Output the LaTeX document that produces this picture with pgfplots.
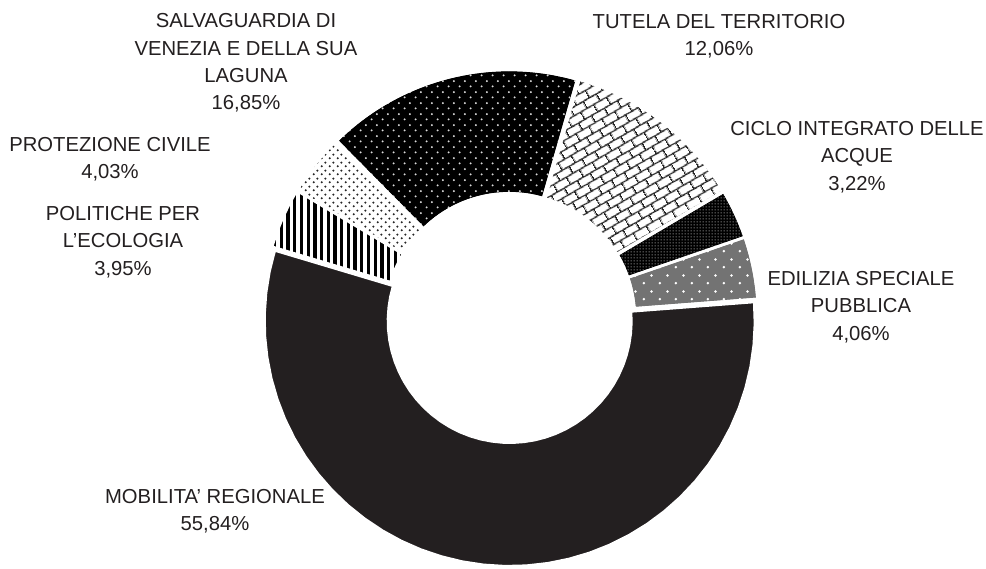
\documentclass[border=0pt]{standalone}
\usepackage{pgfplots}
\pgfplotsset{compat=1.18}
\usepackage{fontspec}
\setmainfont{Liberation Sans}
\usetikzlibrary{patterns,patterns.meta}
\definecolor{dk}{HTML}{231F20}

\tikzdeclarepattern{
  name=RBricks, type=uncolored,
  bounding box={(0,0) and (3.75mm,4mm)},
  tile size={(3.75mm,4mm)},
  tile transformation={rotate=30},
  code={
    \draw[line width=0.38mm] (0,1mm) -- (3.75mm,1mm);
    \draw[line width=0.38mm] (0,3mm) -- (3.75mm,3mm);
    \draw[line width=0.38mm] (0.9375mm,1mm) -- (0.9375mm,3mm);
    \draw[line width=0.38mm] (2.8125mm,3mm) -- (2.8125mm,4mm);
    \draw[line width=0.38mm] (2.8125mm,0mm) -- (2.8125mm,1mm);
  }
}
\tikzdeclarepattern{
  name=DotsBig, type=uncolored,
  bounding box={(0,0) and (2.8mm,2.8mm)}, tile size={(2.8mm,2.8mm)},
  code={\fill (0.7mm,0.7mm) circle (0.28mm); \fill (2.1mm,2.1mm) circle (0.28mm);}
}
\tikzdeclarepattern{
  name=DotsSmall, type=uncolored,
  bounding box={(0,0) and (2mm,2mm)}, tile size={(2mm,2mm)},
  code={\fill (0.5mm,0.5mm) circle (0.32mm); \fill (1.5mm,1.5mm) circle (0.32mm);}
}
\tikzdeclarepattern{
  name=DotsFine, type=uncolored,
  bounding box={(0,0) and (0.75mm,0.75mm)}, tile size={(0.75mm,0.75mm)},
  code={\fill (0.375mm,0.375mm) circle (0.2mm);}
}
\tikzdeclarepattern{
  name=DotsWide, type=uncolored,
  bounding box={(0,0) and (3.9mm,3.9mm)}, tile size={(3.9mm,3.9mm)},
  code={\fill (0.975mm,0.975mm) circle (0.35mm); \fill (2.925mm,2.925mm) circle (0.35mm);}
}

% geometry (axis units = pixels of the reference)
\def\cx{510}\def\cy{250}\def\Ro{245}\def\Ri{122}\def\expl{3}\def\firstangle{16}

% #1 cumulative start (%), #2 share (%), #3 style
\newcommand\slice[3]{%
  \pgfmathsetmacro\sa{90-\firstangle-3.6*#1}%
  \pgfmathsetmacro\sb{90-\firstangle-3.6*(#1+#2)}%
  \pgfmathsetmacro\sm{(\sa+\sb)/2}%
  \pgfmathsetmacro\ex{\cx+\expl*cos(\sm)}%
  \pgfmathsetmacro\ey{\cy+\expl*sin(\sm)}%
  \edef\temp{\noexpand\addplot[\unexpanded{#3}, samples at={0,...,80}, variable=\noexpand\k]
   ({\ex+((\noexpand\k<=40) ? \Ro*cos(\sa+(\sb-\sa)*\noexpand\k/40) : \Ri*cos(\sb+(\sa-\sb)*(\noexpand\k-41)/39))},
    {\ey+((\noexpand\k<=40) ? \Ro*sin(\sa+(\sb-\sa)*\noexpand\k/40) : \Ri*sin(\sb+(\sa-\sb)*(\noexpand\k-41)/39))}) -- cycle;}%
  \temp
}

\begin{document}
\begin{tikzpicture}
\begin{axis}[
  width=246.5mm, height=142mm, scale only axis,
  xmin=0, xmax=986, ymin=0, ymax=568,
  hide axis, clip=false,
]
\path (axis cs:0,0) rectangle (axis cs:986,568);
% TUTELA DEL TERRITORIO 12.06
\slice{0}{12.06}{draw=white, line width=0.5mm, fill=white, postaction={pattern=RBricks, pattern color=black!85}}
% CICLO INTEGRATO DELLE ACQUE 3.22
\slice{12.06}{3.22}{draw=white, line width=0.5mm, fill=black, postaction={pattern=DotsFine, pattern color=white!75!black}}
% EDILIZIA SPECIALE PUBBLICA 4.06
\slice{15.28}{4.06}{draw=white, line width=0.5mm, fill=black!55, postaction={pattern=DotsWide, pattern color=white}}
% MOBILITA' REGIONALE 55.84
\slice{19.34}{55.84}{draw=white, line width=0.5mm, fill=dk}
% POLITICHE PER L'ECOLOGIA 3.95
\slice{75.18}{3.95}{draw=white, line width=0.5mm, fill=white, postaction={pattern={Lines[angle=90,distance=1.675mm,line width=0.83mm]}, pattern color=black}}
% PROTEZIONE CIVILE 4.03
\slice{79.13}{4.03}{draw=white, line width=0.5mm, fill=white, postaction={pattern=DotsSmall, pattern color=black!85}}
% SALVAGUARDIA DI VENEZIA E DELLA SUA LAGUNA 16.85
\slice{83.16}{16.85}{draw=white, line width=0.5mm, fill=black, postaction={pattern=DotsBig, pattern color=white!85!black}}

\tikzset{lab/.style={align=center, text=dk, font=\fontsize{14.4pt}{19.4pt}\selectfont, inner sep=0pt}}
\node[lab] at (axis cs:246,568-63) {SALVAGUARDIA DI\\VENEZIA E DELLA SUA\\LAGUNA\\16,85\%};
\node[lab] at (axis cs:719,568-36) {TUTELA DEL TERRITORIO\\12,06\%};
\node[lab] at (axis cs:857,568-157) {CICLO INTEGRATO DELLE\\ACQUE\\3,22\%};
\node[lab] at (axis cs:861,568-307) {EDILIZIA SPECIALE\\PUBBLICA\\4,06\%};
\node[lab] at (axis cs:110,568-159) {PROTEZIONE CIVILE\\4,03\%};
\node[lab] at (axis cs:123,568-242) {POLITICHE PER\\L'ECOLOGIA\\3,95\%};
\node[lab] at (axis cs:215,568-511) {MOBILITA' REGIONALE\\55,84\%};
\end{axis}
\end{tikzpicture}
\end{document}
